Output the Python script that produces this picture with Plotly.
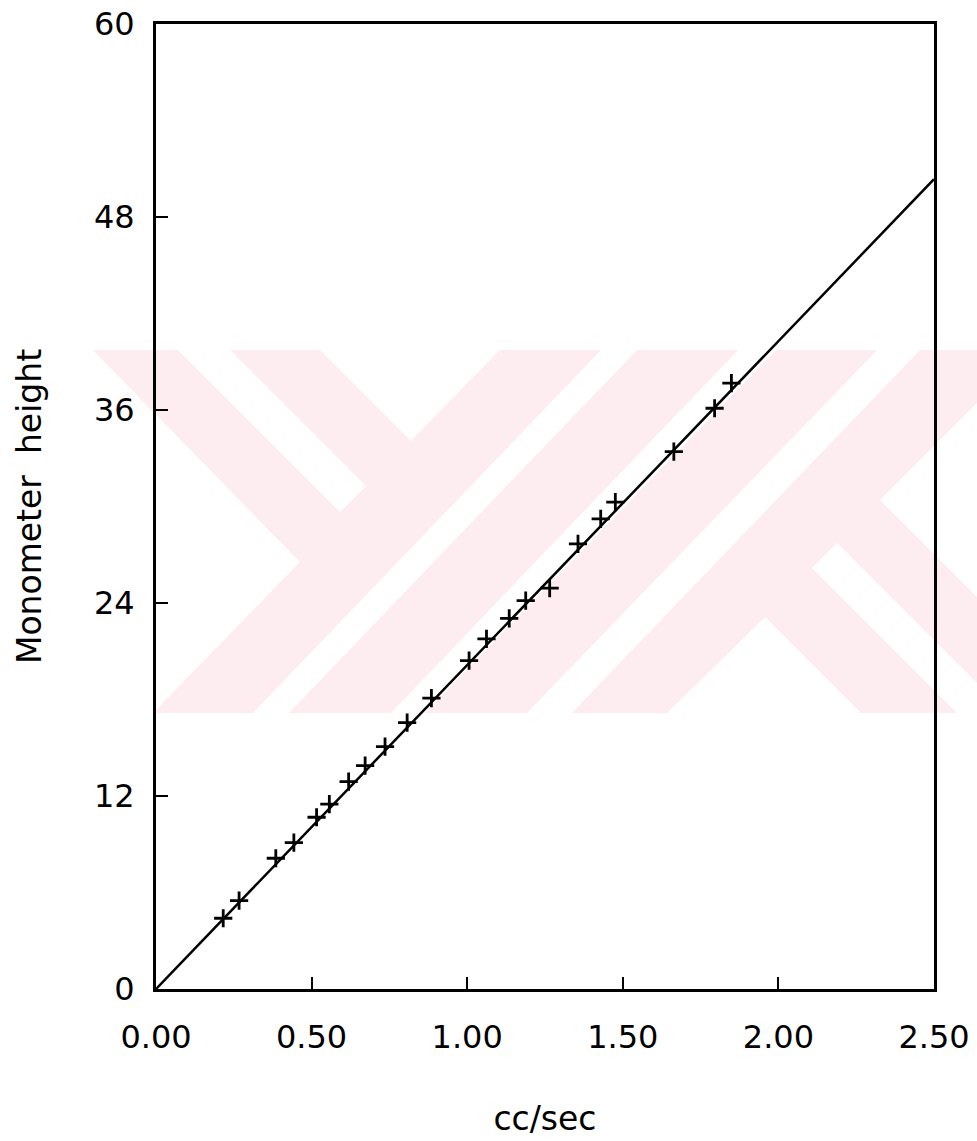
import plotly.graph_objects as go

# Measured flow rate (cc/sec) and manometer reading
flow_rate = [0.216, 0.267, 0.385, 0.443, 0.516, 0.557, 0.619, 0.672, 0.736, 0.807,
             0.885, 1.006, 1.062, 1.135, 1.188, 1.265, 1.356, 1.429, 1.476, 1.664,
             1.795, 1.849]
height = [4.40, 5.49, 8.13, 9.10, 10.68, 11.49, 12.89, 13.89, 15.07, 16.56,
          18.08, 20.42, 21.77, 23.05, 24.15, 24.92, 27.67, 29.23, 30.27, 33.41,
          36.11, 37.67]

# Calibration line through the origin
fit_x = [0.0, 2.5]
fit_y = [0.0, 50.35]

x_ticks = [0.0, 0.5, 1.0, 1.5, 2.0, 2.5]
x_tick_labels = ["0.00", "0.50", "1.00", "1.50", "2.00", "2.50"]
y_ticks = [0, 12, 24, 36, 48, 60]
y_tick_labels = ["0", "12", "24", "36", "48", "60"]

W, H = 977, 1141
L, R, T, B = 156, 934, 24, 989

FONT = "DejaVu Sans"


def px_to_paper(pts):
    return [((x - L) / (R - L), (B - y) / (B - T)) for x, y in pts]


def poly_path(pts):
    pp = px_to_paper(pts)
    return "M " + " L ".join(f"{x:.5f},{y:.5f}" for x, y in pp) + " Z"


PINK = "rgb(253,236,240)"
WHITE = "white"

# Background emblem: pink band cut by white stripes and notches
band = [(87, 350), (977, 350), (977, 713), (87, 713)]
cuts = [
    [(60, 345), (88, 345), (300, 562), (151, 715), (60, 715)],     # left notch
    [(178, 350), (230, 350), (366, 486), (340, 512)],              # short stripe
    [(318, 348), (502, 348), (411, 441)],                          # top notch
    [(603, 348), (639, 348), (287, 715), (251, 715)],              # stripe
    [(740, 348), (778, 348), (423, 715), (389, 715)],              # stripe
    [(879, 348), (922, 348), (570, 715), (525, 715)],              # stripe
    [(665, 715), (765, 617), (863, 715)],                          # bottom notch
    [(880, 500), (980, 400), (980, 600)],                          # right notch
    [(837, 543), (812, 568), (959, 715), (1009, 715)],             # short stripe
]

shapes = [dict(type="path", xref="paper", yref="paper", path=poly_path(band),
               fillcolor=PINK, line=dict(width=0), layer="below")]
for c in cuts:
    shapes.append(dict(type="path", xref="paper", yref="paper", path=poly_path(c),
                       fillcolor=WHITE, line=dict(width=0), layer="below"))

fig = go.Figure()

fig.add_trace(go.Scatter(
    x=fit_x, y=fit_y, mode="lines",
    line=dict(color="black", width=2.5),
    showlegend=False,
))

fig.add_trace(go.Scatter(
    x=flow_rate, y=height, mode="markers",
    marker=dict(symbol="cross-thin", size=13, color="black",
                line=dict(color="black", width=2.8)),
    showlegend=False,
))

axis_common = dict(
    showline=True, linecolor="black", linewidth=3, mirror=True,
    showgrid=False, zeroline=False, automargin=False,
    ticks="inside", ticklen=12, tickwidth=2, tickcolor="black",
    tickfont=dict(family=FONT, size=32, color="black"),
)

fig.update_xaxes(
    range=[0, 2.5], tickvals=x_ticks, ticktext=x_tick_labels,
    ticklabelstandoff=18,
    title=dict(text="cc/sec", font=dict(family=FONT, size=33, color="black"),
               standoff=52),
    **axis_common,
)
fig.update_yaxes(
    range=[0, 60], tickvals=y_ticks, ticktext=y_tick_labels,
    ticklabelstandoff=12,
    title=dict(text="Monometer  height", font=dict(family=FONT, size=33, color="black"),
               standoff=43),
    **axis_common,
)

fig.update_layout(
    width=W, height=H,
    margin=dict(l=L, r=W - R, t=T, b=H - B, pad=0),
    paper_bgcolor="white",
    plot_bgcolor="rgba(0,0,0,0)",
    shapes=shapes,
    showlegend=False,
)

fig.write_html("out.html")
